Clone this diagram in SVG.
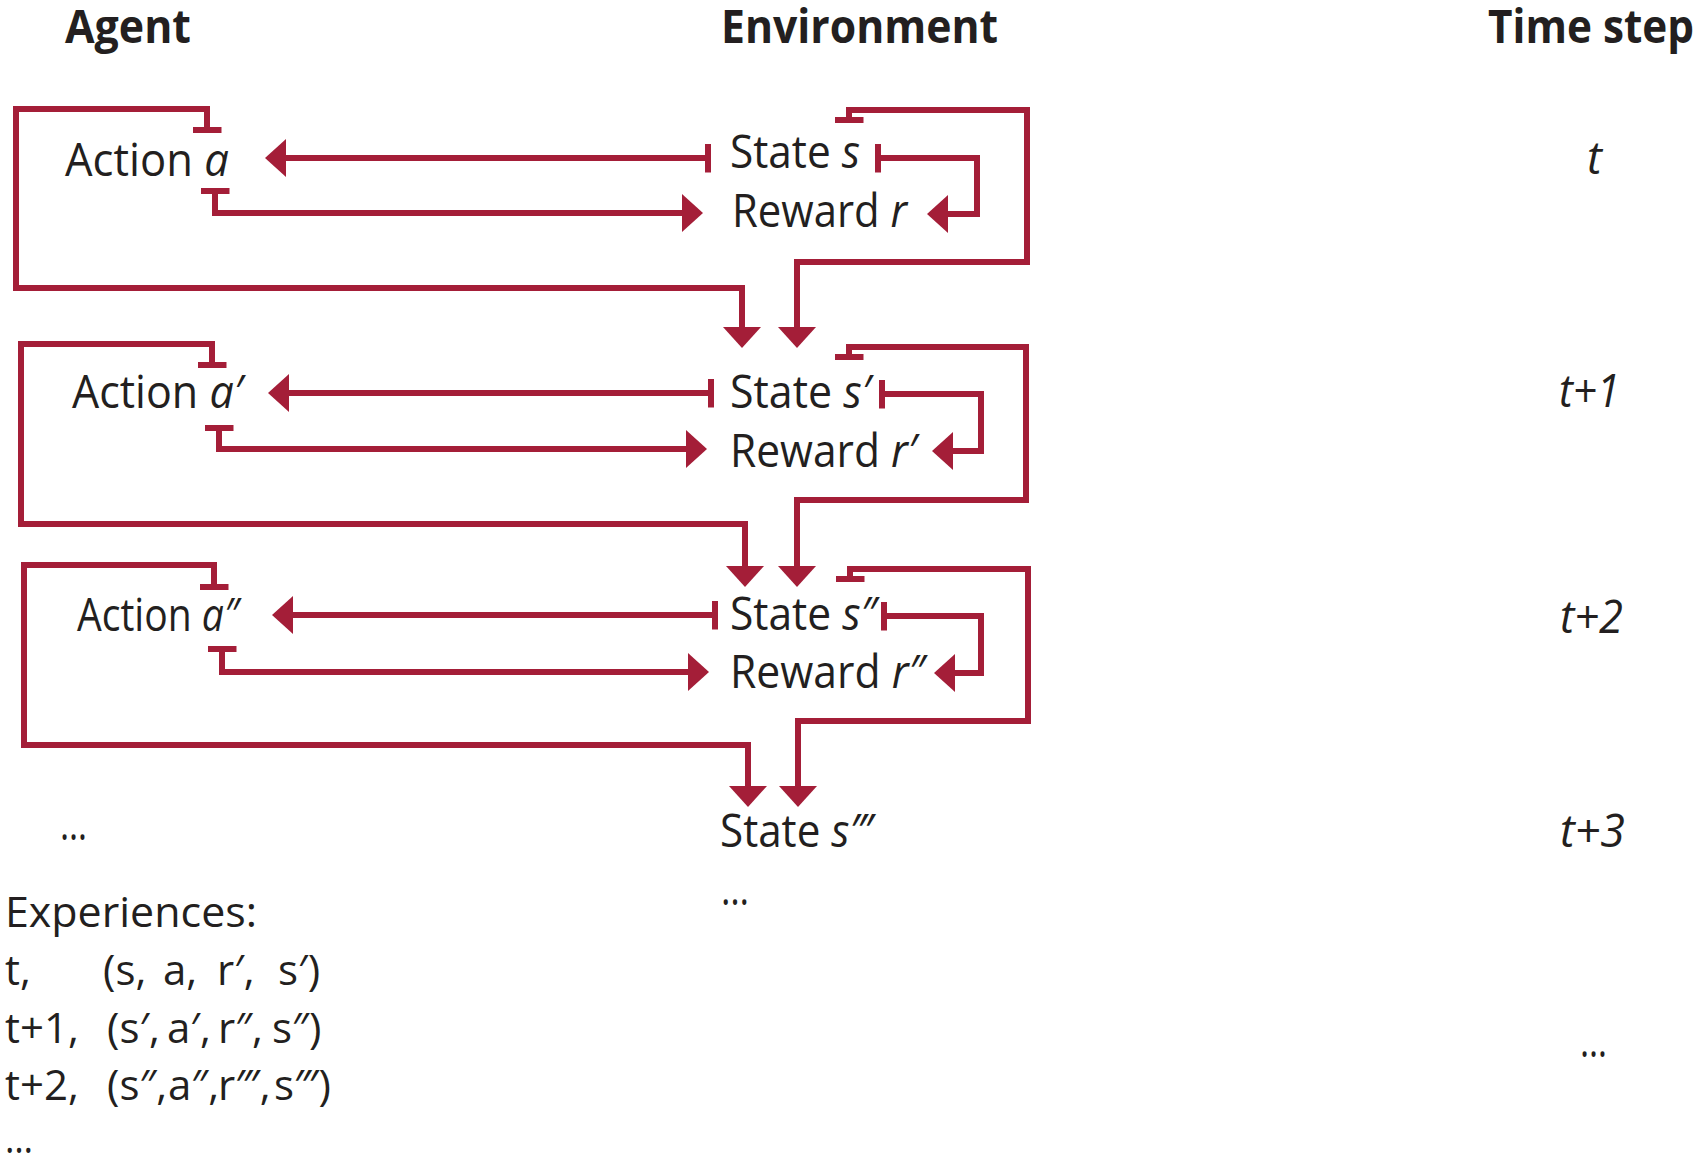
<svg xmlns="http://www.w3.org/2000/svg" width="1706" height="1162" viewBox="0 0 1706 1162">
  <style>
    text { font-family: "Open Sans", "Noto Sans", "Liberation Sans", sans-serif; fill: #231f20; }
    .hdr { font-size: 46px; font-weight: 700; }
    .lbl { font-size: 45px; }
    .exp { font-size: 42px; }
    .it { font-style: italic; }
    .wire { fill: none; stroke: #a41e38; stroke-width: 6; stroke-linejoin: miter; stroke-linecap: butt;
            marker-start: url(#tee); marker-end: url(#arrow); }
  </style>
  <defs>
    <marker id="arrow" viewBox="0 0 21 38" refX="0" refY="19" markerWidth="21" markerHeight="38"
            markerUnits="userSpaceOnUse" orient="auto">
      <path d="M0,0 L21,19 L0,38 Z" fill="#a41e38"/>
    </marker>
    <marker id="tee" viewBox="0 0 6 29" refX="3" refY="14.5" markerWidth="6" markerHeight="29"
            markerUnits="userSpaceOnUse" orient="auto">
      <rect x="0" y="0" width="6" height="29" fill="#a41e38"/>
    </marker>
  </defs>

  <rect width="1706" height="1162" fill="#ffffff"/>

  <!-- column headings -->
  <g id="headings">
    <text class="hdr" x="65" y="43" textLength="126" lengthAdjust="spacingAndGlyphs">Agent</text>
    <text class="hdr" x="721" y="43" textLength="277" lengthAdjust="spacingAndGlyphs">Environment</text>
    <text class="hdr" x="1488" y="43" textLength="206" lengthAdjust="spacingAndGlyphs">Time step</text>
  </g>

  <!-- connectors: tee = source, arrowhead = target -->
  <g id="connectors">
    <!-- step t -->
    <path class="wire" d="M207,130 V109 H16 V288 H742 V327"/>
    <path class="wire" d="M849,120 V110 H1027 V262 H797 V327"/>
    <path class="wire" d="M708,158 H286"/>
    <path class="wire" d="M215,191 V213 H682"/>
    <path class="wire" d="M878,158 H977 V214 H948"/>
    <!-- step t+1 -->
    <path class="wire" d="M212,365 V344 H21 V524 H745 V566"/>
    <path class="wire" d="M849,357 V347 H1026 V500 H797 V566"/>
    <path class="wire" d="M711,393 H289"/>
    <path class="wire" d="M219,428 V449 H686"/>
    <path class="wire" d="M882,394 H981 V451 H953"/>
    <!-- step t+2 -->
    <path class="wire" d="M214,587 V565 H24 V745 H748 V786"/>
    <path class="wire" d="M850,579 V569 H1028 V721 H798 V786"/>
    <path class="wire" d="M715,615 H293"/>
    <path class="wire" d="M222,649 V672 H688"/>
    <path class="wire" d="M884,616 H981 V673 H955"/>
  </g>

  <!-- agent nodes -->
  <g id="action-a">
    <text class="lbl" x="65" y="176" textLength="164" lengthAdjust="spacingAndGlyphs">Action <tspan class="it">a</tspan></text>
  </g>
  <g id="action-a1">
    <text class="lbl" x="72" y="408" textLength="171" lengthAdjust="spacingAndGlyphs">Action <tspan class="it">a′</tspan></text>
  </g>
  <g id="action-a2">
    <text class="lbl" x="77" y="631" textLength="162" lengthAdjust="spacingAndGlyphs">Action <tspan class="it">a″</tspan></text>
  </g>
  <g id="agent-more">
    <text class="lbl" x="60" y="840" textLength="27" lengthAdjust="spacingAndGlyphs">…</text>
  </g>

  <!-- environment nodes -->
  <g id="state-s">
    <text class="lbl" x="730" y="168" textLength="130" lengthAdjust="spacingAndGlyphs">State <tspan class="it">s</tspan></text>
  </g>
  <g id="reward-r">
    <text class="lbl" x="732" y="227" textLength="175" lengthAdjust="spacingAndGlyphs">Reward <tspan class="it">r</tspan></text>
  </g>
  <g id="state-s1">
    <text class="lbl" x="730" y="408" textLength="141" lengthAdjust="spacingAndGlyphs">State <tspan class="it">s′</tspan></text>
  </g>
  <g id="reward-r1">
    <text class="lbl" x="730" y="467" textLength="187" lengthAdjust="spacingAndGlyphs">Reward <tspan class="it">r′</tspan></text>
  </g>
  <g id="state-s2">
    <text class="lbl" x="730" y="630" textLength="147" lengthAdjust="spacingAndGlyphs">State <tspan class="it">s″</tspan></text>
  </g>
  <g id="reward-r2">
    <text class="lbl" x="730" y="688" textLength="195" lengthAdjust="spacingAndGlyphs">Reward <tspan class="it">r″</tspan></text>
  </g>
  <g id="state-s3">
    <text class="lbl" x="720" y="847" textLength="153" lengthAdjust="spacingAndGlyphs">State <tspan class="it">s‴</tspan></text>
  </g>
  <g id="env-more">
    <text class="lbl" x="721" y="905" textLength="28" lengthAdjust="spacingAndGlyphs">…</text>
  </g>

  <!-- time step column -->
  <g id="time-t">
    <text class="lbl it" x="1587" y="174">t</text>
  </g>
  <g id="time-t1">
    <text class="lbl it" x="1559" y="407" textLength="61" lengthAdjust="spacingAndGlyphs">t+1</text>
  </g>
  <g id="time-t2">
    <text class="lbl it" x="1560" y="633" textLength="63" lengthAdjust="spacingAndGlyphs">t+2</text>
  </g>
  <g id="time-t3">
    <text class="lbl it" x="1560" y="847" textLength="65" lengthAdjust="spacingAndGlyphs">t+3</text>
  </g>
  <g id="time-more">
    <text class="lbl" x="1580" y="1057" textLength="27" lengthAdjust="spacingAndGlyphs">…</text>
  </g>

  <!-- experience tuples -->
  <g id="experiences">
    <text class="exp" x="5" y="927" textLength="252" lengthAdjust="spacingAndGlyphs">Experiences:</text>
    <text class="exp" y="985"><tspan x="5">t,</tspan><tspan x="103">(s,</tspan><tspan x="163">a,</tspan><tspan x="217">r′,</tspan><tspan x="278">s′)</tspan></text>
    <text class="exp" y="1043"><tspan x="5">t+1,</tspan><tspan x="107">(s′,</tspan><tspan x="167">a′,</tspan><tspan x="218">r″,</tspan><tspan x="272">s″)</tspan></text>
    <text class="exp" y="1100"><tspan x="5">t+2,</tspan><tspan x="107">(s″,</tspan><tspan x="168">a″,</tspan><tspan x="218">r‴,</tspan><tspan x="274">s‴)</tspan></text>
    <text class="exp" x="5" y="1153" textLength="28" lengthAdjust="spacingAndGlyphs">…</text>
  </g>
</svg>
